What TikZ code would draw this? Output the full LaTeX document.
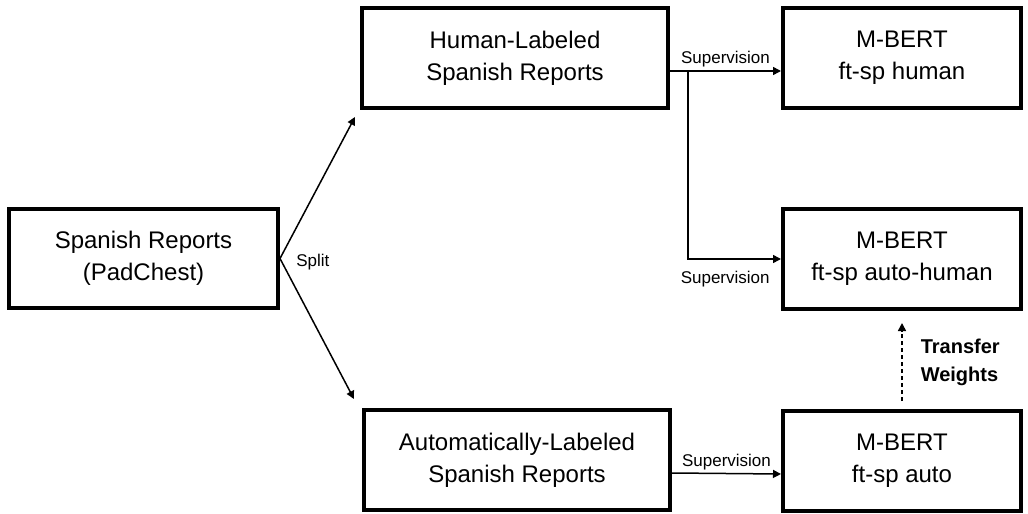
\documentclass[tikz,border=0pt]{standalone}
\usepackage{fontspec}
\setmainfont{Liberation Sans}
\usepackage{tikz}
\usetikzlibrary{arrows.meta, positioning, calc}
\tikzset{
  box/.style    ={rectangle, draw=black, line width=2pt, fill=white, align=center,
                  font=\fontsize{12}{15.8}\selectfont, inner sep=0pt},
  srcbox/.style ={box, minimum width=134.5pt, minimum height=49.5pt},
  databox/.style={box, minimum width=153pt, minimum height=50pt},
  bertbox/.style={box, minimum width=119pt, minimum height=50pt},
  ar/.style     ={-{Triangle[length=4pt,width=4pt]}, line width=0.75pt},
  dar/.style    ={ar, dash pattern=on 2pt off 1.5pt},
  lbl/.style    ={font=\fontsize{8.5}{10}\selectfont, inner sep=1.5pt},
  lblb/.style   ={font=\fontsize{10}{14}\selectfont\bfseries, align=left, inner sep=1.5pt},
}

\begin{document}
\begin{tikzpicture}
\useasboundingbox (0,0) rectangle (514pt,-257pt);
\node[srcbox] (src) at (71.75pt,-129.25pt) {Spanish Reports\\(PadChest)};
\node[databox, above right=48.5pt and 40pt of src] (hum) {Human-Labeled\\Spanish Reports};
\node[databox, below right=49pt and 41pt of src] (aut) {Automatically-Labeled\\Spanish Reports};
\node[bertbox, right=55.5pt of hum] (mh) {M-BERT\\ft-sp human};
\node[bertbox, below=48.5pt of mh] (mah) {M-BERT\\ft-sp auto-human};
\node[bertbox, below=49pt of mah] (ma) {M-BERT\\ft-sp auto};
\coordinate (hs) at ($(hum.south west)+(-2.5pt,-3.5pt)$);
\coordinate (as) at ($(aut.north west)+(-4pt,4.5pt)$);
\coordinate (br) at ($(hum.east)+(9pt,-6.5pt)$);
\draw[ar] (src.east) -- (hs);
\draw[ar] (src.east) -- (as);
\node[lbl, right=6.5pt of src.east, yshift=-2pt] (split) {Split};
\draw[ar] ([yshift=-6.5pt]hum.east) -- node[lbl, above] (sup1) {Supervision} ([yshift=-6.5pt]mh.west);
\draw[ar] (br) |- node[lbl, below=4pt, pos=0.7] (sup2) {Supervision} (mah.west);
\draw[ar] ([yshift=-6.5pt]aut.east) -- node[lbl, above] (sup3) {Supervision} ([yshift=-6.5pt]ma.west);
\draw[dar] ([yshift=4pt]ma.north) -- node[lblb, right=7.5pt] (tw) {Transfer\\Weights} ([yshift=-6pt]mah.south);
\end{tikzpicture}
\end{document}
